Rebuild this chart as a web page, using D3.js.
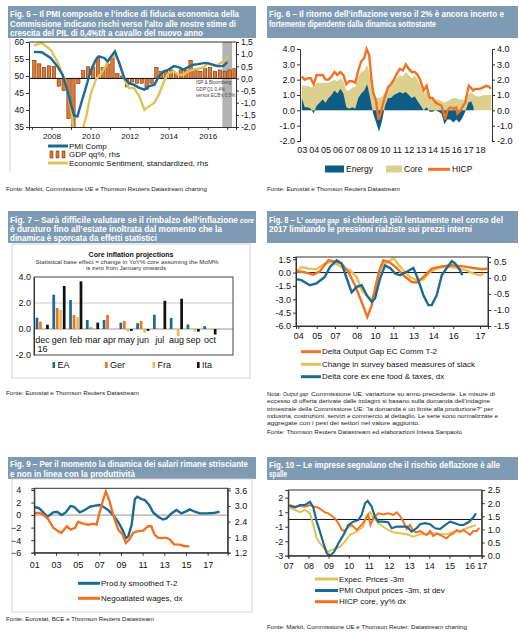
<!DOCTYPE html>
<html>
<head>
<meta charset="utf-8">
<script src="https://cdn.jsdelivr.net/npm/d3@7"></script>
<style>
  body { margin: 0; background: #fff; }
  svg { display: block; font-family: "Liberation Sans", Arial, sans-serif; }
</style>
</head>
<body>
<div id="page"></div>
<script>
// ---------- data ----------

// Fig 5: GDP q/q %, quarterly from 2007Q1
const gdpStart = 2007
const gdpQ = [0.75, 0.6, 0.45, 0.52, 0.5, -0.32, -0.5, -1.66, -2.5, -0.21, 0.32, 0.48,
  0.48, 0.88, 0.45, 0.6, 0.85, 0.2, 0.1, -0.35, -0.15, -0.2, -0.2, -0.45,
  -0.2, 0.45, 0.3, 0.3, 0.35, 0.2, 0.35, 0.35, 0.75, 0.35, 0.3, 0.4,
  0.45, 0.3, 0.35, 0.3, 0.35, 0.4]
const pmiComp = [[2007.1,57.1],[2007.5,57.0],[2007.96,55.3],[2008.3,52.9],[2008.56,50.4],[2008.78,46.5],
  [2009.0,41.6],[2009.16,38.4],[2009.33,38.1],[2009.5,41.6],[2009.76,46.5],[2010.0,51.4],[2010.27,54.8],
  [2010.43,55.8],[2010.7,55.3],[2010.87,54.3],[2011.0,55.3],[2011.25,57.3],[2011.47,53.8],[2011.73,49.4],
  [2011.98,47.9],[2012.23,47.4],[2012.5,46.5],[2012.76,46.0],[2013.0,47.0],[2013.27,47.4],[2013.5,49.9],
  [2013.76,51.4],[2014.0,51.9],[2014.27,52.9],[2014.5,52.6],[2014.76,51.9],[2015.0,52.6],[2015.27,53.3],
  [2015.5,53.5],[2015.8,53.8],[2016.0,53.8],[2016.3,53.3],[2016.5,52.9],[2016.8,52.9],[2017.0,54.1]]
const sentiment = [[2007.1,1.36],[2007.5,1.46],[2007.96,1.18],[2008.3,0.7],[2008.65,0.02],[2008.9,-0.8],
  [2009.05,-1.5],[2009.15,-2.4],[2009.35,-2.8],[2009.6,-2.1],[2009.8,-1.5],[2010.0,-0.67],[2010.27,-0.05],
  [2010.5,0.15],[2010.77,0.5],[2011.0,0.84],[2011.25,0.95],[2011.47,0.7],[2011.73,-0.05],[2011.98,-0.4],
  [2012.23,-0.4],[2012.5,-0.74],[2012.76,-1.29],[2013.0,-1.15],[2013.27,-1.0],[2013.5,-0.67],[2013.76,-0.12],
  [2014.0,0.22],[2014.27,0.29],[2014.5,0.15],[2014.76,0.15],[2015.0,0.29],[2015.27,0.36],[2015.5,0.4],
  [2015.8,0.45],[2016.0,0.63],[2016.3,0.53],[2016.5,0.55],[2016.8,0.7],[2017.05,0.9]]
const forecastSpan = [2016.75, 2017.25]
const fig5YearTicks = [2008, 2010, 2012, 2014, 2016]

// Fig 6: contributions to HICP
const energy6 = [[2003.0,0.8],[2003.25,0.2],[2003.5,0.2],[2003.75,0.1],[2004.0,-0.2],[2004.25,0.3],[2004.5,0.5],
  [2004.75,0.7],[2005.0,0.5],[2005.25,0.8],[2005.5,1.0],[2005.75,1.3],[2006.0,1.1],[2006.25,1.4],[2006.5,1.1],
  [2006.75,0.2],[2007.0,0.1],[2007.25,0.2],[2007.5,0.1],[2007.75,0.8],[2008.0,1.1],[2008.25,1.3],[2008.5,1.7],
  [2008.75,0.8],[2009.0,-0.2],[2009.25,-0.8],[2009.5,-1.4],[2009.75,-0.7],[2010.0,0.3],[2010.25,0.8],[2010.5,0.8],
  [2010.75,1.0],[2011.0,1.1],[2011.25,1.2],[2011.5,1.1],[2011.75,1.2],[2012.0,1.0],[2012.25,0.8],[2012.5,0.9],
  [2012.75,0.6],[2013.0,0.3],[2013.25,0.0],[2013.5,0.2],[2013.75,-0.1],[2014.0,-0.1],[2014.25,0.0],[2014.5,-0.1],
  [2014.75,-0.2],[2015.0,-0.9],[2015.25,-0.6],[2015.5,-0.6],[2015.75,-0.8],[2016.0,-0.6],[2016.25,-0.8],
  [2016.5,-0.5],[2016.75,-0.1],[2017.0,0.5],[2017.25,0.6],[2017.45,0.2]]
const core6 = [[2003.0,1.6],[2003.25,1.6],[2003.5,1.6],[2003.75,1.5],[2004.0,1.5],[2004.25,1.8],[2004.5,1.8],
  [2004.75,1.8],[2005.0,1.8],[2005.25,1.8],[2005.5,1.9],[2005.75,2.0],[2006.0,1.9],[2006.25,2.1],[2006.5,1.9],
  [2006.75,1.3],[2007.0,1.3],[2007.25,1.5],[2007.5,1.5],[2007.75,2.2],[2008.0,2.5],[2008.25,2.6],[2008.5,3.0],
  [2008.75,2.2],[2009.0,1.3],[2009.25,0.8],[2009.5,0.8],[2009.75,0.9],[2010.0,1.2],[2010.25,1.5],[2010.5,1.6],
  [2010.75,1.9],[2011.0,2.1],[2011.25,2.3],[2011.5,2.2],[2011.75,2.5],[2012.0,2.3],[2012.25,2.1],[2012.5,2.3],
  [2012.75,2.0],[2013.0,1.6],[2013.25,1.1],[2013.5,1.3],[2013.75,0.8],[2014.0,0.8],[2014.25,0.7],[2014.5,0.7],
  [2014.75,0.6],[2015.0,0.5],[2015.25,0.6],[2015.5,0.7],[2015.75,0.8],[2016.0,0.8],[2016.25,0.7],[2016.5,0.7],
  [2016.75,0.7],[2017.0,1.0],[2017.25,1.2],[2017.5,1.0],[2017.75,0.9],[2018.0,0.9],[2018.25,1.0],[2018.5,1.0],
  [2018.75,1.0],[2018.95,1.0]]
const hicp6 = [[2003.0,2.2],[2003.25,2.0],[2003.5,2.1],[2003.75,2.1],[2004.0,1.7],[2004.25,2.3],[2004.5,2.3],
  [2004.75,2.3],[2005.0,2.0],[2005.25,2.0],[2005.5,2.2],[2005.75,2.5],[2006.0,2.3],[2006.25,2.5],[2006.5,2.3],
  [2006.75,1.7],[2007.0,1.9],[2007.25,1.9],[2007.5,1.8],[2007.75,2.6],[2008.0,3.2],[2008.25,3.4],[2008.45,4.0],
  [2008.67,3.6],[2008.85,2.1],[2009.0,1.2],[2009.25,0.6],[2009.45,-0.6],[2009.6,-0.3],[2009.85,0.5],[2010.0,0.9],
  [2010.25,1.5],[2010.5,1.7],[2010.75,2.0],[2011.0,2.4],[2011.25,2.7],[2011.5,2.6],[2011.75,3.0],[2012.0,2.7],
  [2012.25,2.5],[2012.5,2.5],[2012.75,2.3],[2013.0,1.9],[2013.25,1.3],[2013.5,1.6],[2013.75,0.8],[2014.0,0.8],
  [2014.25,0.5],[2014.5,0.4],[2014.75,0.3],[2014.95,-0.2],[2015.05,-0.6],[2015.25,0.0],[2015.5,0.2],[2015.75,0.1],
  [2016.0,0.2],[2016.1,-0.2],[2016.35,0.0],[2016.5,0.2],[2016.75,0.5],[2016.9,1.1],[2017.05,1.6],[2017.2,1.5],
  [2017.4,1.3],[2017.6,1.4],[2017.8,1.4],[2018.0,1.4],[2018.25,1.5],[2018.5,1.6],[2018.75,1.55],[2018.9,1.4]]
const fig6Years = d3.range(2003, 2019)

// Fig 7: core inflation base effects
const months7 = ['dec', 'gen', 'feb', 'mar', 'apr', 'may', 'jun', 'jul', 'aug', 'sep', 'oct']
const countries7 = ['EA', 'Ger', 'Fra', 'Ita']
const ea7 = [0.87, 2.64, 2.23, 0.69, 0.69, 0.49, 0.45, 1.1, 0.85, 0.35, 0.22]
const ger7 = [0.56, 1.62, 1.08, 0.13, 1.08, 0.62, 0.62, 0.03, 0.0, 0.0, 0.0]
const fra7 = [0.05, 1.46, 0.9, 0.05, 0.0, -0.2, -0.3, 0.05, -0.55, -0.2, -0.1]
const ita7 = [0.33, 3.31, 3.67, 0.49, 0.0, -0.15, -0.15, 2.17, 2.33, -0.2, -0.42]

// Fig 8: output gap
const outputGap8 = [[2004.0,0.15],[2004.53,0.07],[2005.26,-0.23],[2005.75,0.15],[2006.36,1.38],[2006.97,1.2],
  [2007.33,1.0],[2007.82,0.07],[2008.3,-1.43],[2008.79,-3.3],[2009.2,-5.0],[2009.52,-3.68],[2009.76,-1.8],
  [2010.13,0.45],[2010.37,1.38],[2010.86,1.12],[2011.34,0.52],[2011.83,-0.3],[2012.44,-1.06],[2012.8,-1.12],
  [2013.29,-0.5],[2013.9,0.45],[2014.63,0.7],[2015.36,0.82],[2016.2,0.7],[2016.93,0.52],[2017.55,0.37],[2017.96,0.45]]
const slack8 = [[2004.0,0.07],[2004.4,0.63],[2004.9,0.45],[2005.5,0.37],[2006.1,1.0],[2006.6,1.2],[2007.1,0.82],
  [2007.57,0.45],[2007.94,0.25],[2008.43,-0.5],[2008.79,-2.0],[2009.16,-2.55],[2009.52,-3.1],[2009.76,-2.18],
  [2010.0,-0.12],[2010.37,1.0],[2010.73,1.2],[2011.1,1.64],[2011.46,0.9],[2011.83,0.25],[2012.32,-0.5],
  [2012.8,-0.87],[2013.29,-0.75],[2013.77,0.07],[2014.26,0.45],[2014.74,0.63],[2015.36,0.63],[2015.96,0.45],
  [2016.45,0.25],[2016.93,-0.12],[2017.42,-0.3],[2017.71,-0.12]]
const deltaCore8 = [[2004.0,-0.04],[2004.4,-0.07],[2005.0,-0.23],[2005.5,-0.17],[2006.1,0.03],[2006.48,0.34],
  [2006.97,0.55],[2007.33,0.45],[2007.7,-0.02],[2008.06,-0.45],[2008.43,-0.28],[2008.79,-0.23],[2009.16,-0.54],
  [2009.52,-0.75],[2009.76,-0.64],[2010.13,-0.02],[2010.49,0.39],[2010.86,0.31],[2011.22,0.14],[2011.58,0.08],
  [2012.07,0.19],[2012.56,0.31],[2012.92,-0.07],[2013.29,-0.54],[2013.65,-0.85],[2013.9,-0.85],[2014.26,-0.54],
  [2014.63,0.08],[2014.99,0.31],[2015.36,0.52],[2015.6,0.45],[2015.96,0.24],[2016.13,0.08]]
const fig8TickPos = [2004.17, 2005.51, 2006.84, 2008.43, 2009.76, 2011.1, 2012.56, 2014.01, 2015.47, 2017.42]
const fig8TickLab = ['04', '05', '07', '08', '10', '11', '13', '14', '16', '17']

// Fig 9: productivity and wages
const prod9 = [[2001.0,1.33],[2001.46,1.07],[2001.83,0.43],[2002.23,-0.27],[2002.75,0.43],[2003.12,0.53],
  [2003.52,0.0],[2003.9,0.43],[2004.35,1.44],[2004.66,1.33],[2005.2,0.43],[2005.67,0.8],[2006.13,1.33],
  [2006.6,1.5],[2007.05,1.6],[2007.36,1.33],[2007.82,0.8],[2008.28,0.0],[2008.74,-1.07],[2009.15,-2.4],
  [2009.45,-3.7],[2009.67,-3.4],[2009.98,-1.6],[2010.28,2.56],[2010.5,2.93],[2010.9,2.56],[2011.2,2.4],
  [2011.6,1.6],[2011.97,0.43],[2012.43,-0.27],[2012.89,-0.7],[2013.2,-0.53],[2013.66,0.27],[2014.12,0.8],
  [2014.58,0.27],[2015.05,0.64],[2015.35,0.9],[2015.81,0.53],[2016.27,0.27],[2016.9,0.27],[2017.5,0.32],[2018.1,0.53]]
const wages9 = [[2001.0,2.73],[2001.46,2.73],[2001.83,2.67],[2002.3,2.48],[2002.75,2.16],[2003.2,2.03],
  [2003.52,1.97],[2004.0,2.22],[2004.35,2.09],[2004.76,2.16],[2005.05,2.39],[2005.52,2.32],[2005.98,2.28],
  [2006.44,2.32],[2006.75,2.28],[2007.05,2.79],[2007.36,3.24],[2007.6,3.56],[2007.9,3.24],[2008.28,2.67],
  [2008.74,2.09],[2009.15,1.9],[2009.45,1.58],[2009.78,1.71],[2010.13,1.97],[2010.6,2.03],[2011.05,2.05],
  [2011.5,2.22],[2011.8,2.22],[2012.1,1.9],[2012.43,1.77],[2012.89,1.77],[2013.2,1.77],[2013.5,1.71],
  [2013.9,1.52],[2014.43,1.51],[2014.9,1.45],[2015.3,1.45]]
const fig9Years = [2001, 2003, 2005, 2007, 2009, 2011, 2013, 2015, 2017]

// Fig 10: deflation risk
const expPrices10 = [[2007.05,0.98],[2007.33,0.79],[2007.58,0.6],[2007.83,0.79],[2008.08,0.51],[2008.24,-0.46],
  [2008.41,-1.56],[2008.57,-1.97],[2008.77,-2.38],[2008.99,-2.67],[2009.15,-2.52],[2009.32,-2.44],[2009.57,-2.25],
  [2009.81,-1.84],[2010.06,-1.28],[2010.39,-1.01],[2010.72,-0.6],[2010.89,0.37],[2011.05,0.6],[2011.22,0.15],
  [2011.47,-0.31],[2011.71,-0.6],[2011.96,-0.87],[2012.21,-1.06],[2012.54,-1.14],[2012.88,-1.23],[2013.2,-1.42],
  [2013.54,-1.23],[2013.87,-1.23],[2014.2,-1.14],[2014.53,-1.23],[2014.86,-1.23],[2015.19,-1.01],[2015.52,-0.96],
  [2015.85,-0.73],[2016.18,-0.54],[2016.31,-0.46]]
const pmiPrices10 = [[2007.05,1.14],[2007.33,1.0],[2007.58,1.2],[2007.83,1.2],[2008.08,1.47],[2008.24,1.0],
  [2008.41,-0.18],[2008.57,-1.01],[2008.77,-2.11],[2008.91,-2.8],[2009.08,-3.0],[2009.28,-2.67],[2009.49,-1.97],
  [2009.74,-1.28],[2009.98,-0.46],[2010.23,-0.18],[2010.48,-0.04],[2010.64,0.37],[2010.81,1.34],[2010.94,1.53],
  [2011.14,1.06],[2011.3,0.23],[2011.47,-0.18],[2011.71,-0.18],[2011.96,-0.23],[2012.13,-0.73],[2012.38,-0.6],
  [2012.63,-0.6],[2012.88,-0.6],[2013.12,-1.01],[2013.37,-0.73],[2013.54,-0.4],[2013.79,-0.31],[2014.04,-0.4],
  [2014.29,-0.73],[2014.53,-0.79],[2014.78,-0.46],[2015.03,-0.18],[2015.28,-0.31],[2015.52,-0.46],[2015.69,-0.46],
  [2015.94,-0.23],[2016.18,0.15],[2016.31,0.51]]
const coreHicp10 = [[2007.05,1.93],[2007.33,1.86],[2007.58,1.9],[2007.83,1.86],[2008.08,1.93],[2008.32,1.86],
  [2008.49,1.83],[2008.66,1.74],[2008.82,1.65],[2008.99,1.61],[2009.15,1.52],[2009.32,1.42],[2009.49,1.23],
  [2009.65,0.98],[2009.81,0.94],[2009.98,1.1],[2010.15,1.17],[2010.39,0.98],[2010.64,1.17],[2010.81,1.36],
  [2010.97,1.55],[2011.08,1.17],[2011.22,1.42],[2011.47,1.61],[2011.71,1.57],[2011.96,1.61],[2012.21,1.55],
  [2012.38,1.65],[2012.54,1.52],[2012.71,1.29],[2012.88,1.02],[2013.04,1.17],[2013.2,0.94],[2013.37,0.89],
  [2013.54,0.94],[2013.71,0.85],[2013.87,0.79],[2014.04,0.94],[2014.2,0.75],[2014.37,0.85],[2014.53,0.79],
  [2014.7,0.72],[2014.86,0.66],[2015.03,0.79],[2015.19,0.85],[2015.36,0.98],[2015.52,0.9],[2015.69,0.98],
  [2015.85,0.89],[2016.02,0.79],[2016.18,0.94],[2016.35,0.94],[2016.48,1.06]]
const fig10Ticks = [2007, 2008, 2009, 2010, 2011, 2012, 2013, 2014, 2015, 2016, 2016.6]

// ---------- drawing ----------
const C = {
  blue: '#1a6a93', orange: '#f07324', yellow: '#e2c257', khaki: '#ddd08f', navy: '#0e5d86',
  head: '#7f9bb3', axis: '#333', grid: '#c9c9c9', text: '#111', src: '#222'
}

let svg = d3.select('#page').append('svg').attr('width', 519).attr('height', 635)
svg.append('rect').attr('width', 519).attr('height', 635).attr('fill', '#fff')

function label(x, y, s, o = {}) {
  let t = svg.append('text').attr('x', x).attr('y', y)
    .attr('font-size', o.size || 8).attr('fill', o.fill || C.text)
    .attr('dominant-baseline', 'central')
  if (o.bold) t.attr('font-weight', 'bold')
  if (o.anchor) t.attr('text-anchor', o.anchor)
  if (typeof s === 'string') {
    t.text(s)
    if (o.len) t.attr('textLength', o.len).attr('lengthAdjust', 'spacingAndGlyphs')
  } else {
    // segments: [text, italic, x, width, size]
    s.forEach(sg => {
      t.append('tspan').text(sg[0]).attr('x', sg[2]).attr('font-style', sg[1] ? 'italic' : null)
        .attr('font-size', sg[4] || null)
        .attr('textLength', sg[3]).attr('lengthAdjust', 'spacingAndGlyphs')
    })
  }
  return t
}

function titleBar(x, y, w, h, lines) {
  svg.append('rect').attr('x', x).attr('y', y).attr('width', w).attr('height', h).attr('fill', C.head)
  lines.forEach(l => label(x + 2, l.y, l.t, { size: 8.2, bold: true, fill: '#fff', len: l.len }))
}

function source(x, y, s, len) {
  label(x, y, s, { size: 5.6, fill: C.src, len: len })
}

function styleAxis(g, size) {
  g.attr('font-family', null).attr('font-size', null)
  g.select('.domain').attr('stroke', C.axis)
  g.selectAll('.tick line').attr('stroke', C.axis)
  g.selectAll('.tick text').attr('font-size', size).attr('fill', C.text)
  return g
}

let fixed = n => d => d.toFixed(n)
let lineGen = (x, y) => d3.line().x(d => x(d[0])).y(d => y(d[1]))

function legendLine(x, y, color, text, w = 20) {
  svg.append('line').attr('x1', x).attr('x2', x + w).attr('y1', y).attr('y2', y)
    .attr('stroke', color).attr('stroke-width', 3)
  label(x + w + 1, y, text, { size: 8 })
}

function clip(id, x0, y0, x1, y1) {
  svg.append('clipPath').attr('id', id).append('rect')
    .attr('x', x0).attr('y', y0).attr('width', x1 - x0).attr('height', y1 - y0)
  return 'url(#' + id + ')'
}

// ===== Fig 5 =====
titleBar(8, 6, 248, 32, [
  { y: 14.5, t: 'Fig. 5 – Il PMI composito e l’indice di fiducia economica della', len: 229 },
  { y: 24, t: 'Commissione indicano rischi verso l’alto alle nostre stime di', len: 226 },
  { y: 33, t: 'crescita del PIL di 0,4%t/t a cavallo del nuovo anno', len: 193 }
])
svg.append('line').attr('x1', 10).attr('x2', 10).attr('y1', 38).attr('y2', 172).attr('stroke', '#d4d4d4')
{
  let x = d3.scaleLinear().domain([2006.85, 2017.45]).range([29, 236])
  let yL = d3.scaleLinear().domain([35, 60]).range([127, 42])
  let yR = d3.scaleLinear().domain([-2, 1.5]).range([127, 42])
  let cp = clip('c5', 29, 42, 236, 127)
  let g = svg.append('g').attr('clip-path', cp)
  g.append('rect').attr('x', x(forecastSpan[0])).attr('width', x(forecastSpan[1]) - x(forecastSpan[0]))
    .attr('y', 42).attr('height', 85).attr('fill', '#b3b3b3')
  g.selectAll('rect.gdp').data(gdpQ).enter().append('rect').attr('class', 'gdp')
    .attr('x', (d, i) => x(gdpStart + i / 4 + 0.125) - 1.7)
    .attr('width', 3.4)
    .attr('y', d => yR(Math.max(0, d)))
    .attr('height', d => Math.abs(yR(d) - yR(0)))
    .attr('fill', C.orange).attr('stroke', '#3a2a20').attr('stroke-width', 0.5)
  g.append('line').attr('x1', 29).attr('x2', 236).attr('y1', yR(0)).attr('y2', yR(0)).attr('stroke', '#111')
  g.append('path').datum(sentiment).attr('d', lineGen(x, yR)).attr('fill', 'none')
    .attr('stroke', C.yellow).attr('stroke-width', 2.4)
  g.append('path').datum(pmiComp).attr('d', lineGen(x, yL)).attr('fill', 'none')
    .attr('stroke', C.blue).attr('stroke-width', 2.4)
  svg.append('line').attr('x1', 29).attr('x2', 236).attr('y1', 42).attr('y2', 42).attr('stroke', C.axis)
  styleAxis(svg.append('g').attr('transform', 'translate(29,0)')
    .call(d3.axisLeft(yL).tickValues([35, 40, 45, 50, 55, 60]).tickSize(3).tickPadding(2)), 8.5)
  styleAxis(svg.append('g').attr('transform', 'translate(236,0)')
    .call(d3.axisRight(yR).tickValues(d3.range(-2, 1.51, 0.5)).tickSize(3).tickPadding(2)
      .tickFormat(d => d.toFixed(1).replace('.', ','))), 8.5)
  styleAxis(svg.append('g').attr('transform', 'translate(0,127)')
    .call(d3.axisBottom(x).tickValues(d3.range(2007, 2018)).tickSize(3).tickPadding(3.5)
      .tickFormat(d => fig5YearTicks.includes(d) ? String(d) : '')), 8)
  ;['ISP & Bloomberg:', 'GDP’Q1 0.4%', 'versus ECB’s 0.5%.'].forEach((s, i) =>
    label(196, 82.5 + i * 6.6, s, { size: 4.6, fill: '#444' }))
  // legend
  legendLine(48, 146, C.blue, 'PMI Comp')
  ;[0, 1, 2].forEach(i => svg.append('rect').attr('x', 50 + i * 6).attr('y', 151).attr('width', 3).attr('height', 7)
    .attr('fill', C.orange).attr('stroke', '#3a2a20').attr('stroke-width', 0.5))
  label(69, 154.5, 'GDP qq%, rhs', { size: 8 })
  legendLine(48, 163, C.yellow, 'Economic Sentiment, standardized, rhs')
}
source(6, 189, 'Fonte: Markit, Commissione UE e Thomson Reuters Datastream charting', 201)

// ===== Fig 6 =====
titleBar(267, 6, 251, 32, [
  { y: 14.5, t: 'Fig. 6 – Il ritorno dell’inflazione verso il 2% è ancora incerto e', len: 235 },
  { y: 24, t: 'fortemente dipendente dalla dinamica sottostante', len: 167 }
])
{
  let x = d3.scaleLinear().domain([2002.85, 2019.0]).range([300, 492])
  let y = d3.scaleLinear().domain([-2, 4]).range([141, 49])
  let area = d3.area().x(d => x(d[0])).y0(y(0)).y1(d => y(d[1]))
  svg.append('path').datum(core6).attr('d', area).attr('fill', C.khaki)
  svg.append('path').datum(energy6).attr('d', area).attr('fill', C.navy)
  svg.append('path').datum(hicp6).attr('d', lineGen(x, y)).attr('fill', 'none')
    .attr('stroke', C.orange).attr('stroke-width', 2.4)
  styleAxis(svg.append('g').attr('transform', 'translate(300,0)')
    .call(d3.axisLeft(y).tickValues(d3.range(-2, 4.1, 1)).tickSize(3).tickPadding(2).tickFormat(fixed(1))), 9)
  styleAxis(svg.append('g').attr('transform', 'translate(492,0)')
    .call(d3.axisRight(y).tickValues(d3.range(-2, 4.1, 1)).tickSize(3).tickPadding(2).tickFormat(fixed(1))), 9)
  let gb = styleAxis(svg.append('g').attr('transform', 'translate(0,141)')
    .call(d3.axisBottom(x).tickValues(fig6Years).tickSize(0).tickPadding(5.5)
      .tickFormat(d => String(d).slice(2))), 9)
  gb.select('.domain').remove()
  // legend
  svg.append('rect').attr('x', 325).attr('y', 165.5).attr('width', 19).attr('height', 7).attr('fill', C.navy)
  label(346, 169.3, 'Energy', { size: 8.5 })
  svg.append('rect').attr('x', 386).attr('y', 165.5).attr('width', 16).attr('height', 7).attr('fill', C.khaki)
  label(404, 169.3, 'Core', { size: 8.5 })
  svg.append('line').attr('x1', 428).attr('x2', 450).attr('y1', 169.3).attr('y2', 169.3)
    .attr('stroke', C.orange).attr('stroke-width', 3)
  label(452, 169.3, 'HICP', { size: 8.5 })
}
source(267, 189, 'Fonte: Eurostat e Thomson Reuters Datastream', 133)

// ===== Fig 7 =====
titleBar(8, 211, 248, 32, [
  { y: 219.5, t: [['Fig. 7 – Sarà difficile valutare se il rimbalzo dell’inflazione', false, 10, 228], ['core', true, 240, 14, 7]] },
  { y: 229, t: 'è duraturo fino all’estate inoltrata dal momento che la', len: 212 },
  { y: 238, t: 'dinamica è sporcata da effetti statistici', len: 147 }
])
svg.append('rect').attr('x', 12).attr('y', 244).attr('width', 238).attr('height', 134)
  .attr('fill', 'none').attr('stroke', '#d4d4d4')
{
  label(131, 254.5, 'Core inflation projections', { size: 7, bold: true, anchor: 'middle' })
  label(127, 262, 'Statistical base effect = change in YoY% core assuming the MoM%', { size: 5.3, anchor: 'middle', fill: '#333', len: 183 })
  label(126, 268, 'is zero from January onwards', { size: 5.3, anchor: 'middle', fill: '#333', len: 80 })
  let x = d3.scaleBand().domain(months7).range([34, 218.5])
  let xi = d3.scaleBand().domain(countries7).range([1.6, 14.8]).paddingInner(0.22)
  let y = d3.scaleLinear().domain([-2, 4]).range([355, 277])
  let colors7 = { EA: C.blue, Ger: C.orange, Fra: C.yellow, Ita: '#111' }
  let series7 = { EA: ea7, Ger: ger7, Fra: fra7, Ita: ita7 }
  svg.append('line').attr('x1', 34).attr('x2', 233).attr('y1', y(2)).attr('y2', y(2)).attr('stroke', C.grid)
  svg.append('line').attr('x1', 34).attr('x2', 233).attr('y1', y(0)).attr('y2', y(0)).attr('stroke', '#9a9a9a')
  countries7.forEach(c => {
    svg.append('g').selectAll('rect').data(series7[c]).enter().append('rect')
      .attr('x', (d, i) => x(months7[i]) + xi(c))
      .attr('width', xi.bandwidth())
      .attr('y', d => y(Math.max(0, d)))
      .attr('height', d => Math.abs(y(d) - y(0)))
      .attr('fill', colors7[c])
  })
  svg.append('rect').attr('x', 34).attr('y', 277).attr('width', 199).attr('height', 78)
    .attr('fill', 'none').attr('stroke', '#444')
  styleAxis(svg.append('g').attr('transform', 'translate(34,0)')
    .call(d3.axisLeft(y).tickValues([-2, 0, 2, 4]).tickSize(0).tickPadding(3).tickFormat(fixed(1))), 9)
  months7.forEach(m => label(x(m) + x.bandwidth() / 2, 339.5, m, { size: 9, anchor: 'middle' }))
  label(x('dec') + x.bandwidth() / 2, 348.5, '16', { size: 9, anchor: 'middle' })
  let lx = [52.5, 105, 152.5, 197]
  countries7.forEach((c, i) => {
    svg.append('rect').attr('x', lx[i]).attr('y', 362).attr('width', 2.6).attr('height', 6).attr('fill', colors7[c])
    label(lx[i] + 5, 365.3, c, { size: 9 })
  })
}
source(6, 393, 'Fonte: Eurostat e Thomson Reuters Datastream', 133)

// ===== Fig 8 =====
titleBar(267, 211, 251, 32, [
  { y: 219.5, t: [['Fig. 8 – L’', false, 269, 34], ['output gap', true, 305, 34, 7], ['si chiuderà più lentamente nel corso del', false, 343, 160]] },
  { y: 229, t: '2017 limitando le pressioni rialziste sui prezzi interni', len: 203 }
])
{
  let x = d3.scaleLinear().domain([2004, 2018]).range([296, 488])
  let yL = d3.scaleLinear().domain([-6, 1.75]).range([326, 257])
  let yR = d3.scaleLinear().domain([-1.5, 0.65]).range([326, 257])
  let cp = clip('c8', 296, 257, 488, 326)
  let g = svg.append('g').attr('clip-path', cp)
  g.append('line').attr('x1', 296).attr('x2', 488).attr('y1', yL(0)).attr('y2', yL(0)).attr('stroke', '#111')
  g.append('path').datum(slack8).attr('d', lineGen(x, yL)).attr('fill', 'none').attr('stroke', C.yellow).attr('stroke-width', 2.4)
  g.append('path').datum(outputGap8).attr('d', lineGen(x, yL)).attr('fill', 'none').attr('stroke', C.orange).attr('stroke-width', 2.4)
  g.append('path').datum(deltaCore8).attr('d', lineGen(x, yR)).attr('fill', 'none').attr('stroke', C.blue).attr('stroke-width', 2.4)
  svg.append('rect').attr('x', 296).attr('y', 257).attr('width', 192).attr('height', 69).attr('fill', 'none').attr('stroke', C.axis)
  styleAxis(svg.append('g').attr('transform', 'translate(296,0)')
    .call(d3.axisLeft(yL).tickValues([-6, -4.5, -3, -1.5, 0, 1.5]).tickSize(3).tickPadding(2).tickFormat(fixed(1))), 9)
  styleAxis(svg.append('g').attr('transform', 'translate(488,0)')
    .call(d3.axisRight(yR).tickValues([-1.5, -1, -0.5, 0, 0.5]).tickSize(3).tickPadding(3).tickFormat(fixed(1))), 9)
  styleAxis(svg.append('g').attr('transform', 'translate(0,326)')
    .call(d3.axisBottom(x).tickValues(fig8TickPos).tickSize(3).tickPadding(4)
      .tickFormat((d, i) => fig8TickLab[i])), 9)
  legendLine(301, 351.7, C.orange, 'Delta Output Gap EC Comm T-2')
  legendLine(301, 364.3, C.yellow, 'Change in survey based measures of slack')
  legendLine(301, 376.7, C.blue, 'Delta core  ex ene food & taxes, dx')
}
{
  label(267, 394, [['Nota:', false, 267, 14], ['Output gap', true, 283, 25],
    ['Commissione UE, variazione su anno precedente. Le misure di', false, 311, 184]], { size: 5.6, fill: C.src })
  let notes = [
    ['eccesso di offerta derivate dalle indagini si basano sulla domanda dell’indagine', 223],
    ['trimestrale della Commissione UE: “la domanda è un limite alla produzione?” per', 226],
    ['industria, costruzioni, servizi e commercio al dettaglio. Le serie sono normalizzate e', 231],
    ['aggregate con i pesi dei settori nel valore aggiunto.', 153]
  ]
  notes.forEach((n, i) => label(267, 401.35 + i * 7.35, n[0], { size: 5.6, fill: C.src, len: n[1] }))
  source(267, 431.5, 'Fonte: Thomson Reuters Datastream ed elaborazioni Intesa Sanpaolo', 195)
}

// ===== Fig 9 =====
titleBar(8, 457, 248, 22, [
  { y: 464.5, t: 'Fig. 9 – Per il momento la dinamica dei salari rimane strisciante', len: 238 },
  { y: 474, t: 'e non in linea con la produttività', len: 125 }
])
svg.append('rect').attr('x', 12).attr('y', 479).attr('width', 240).attr('height', 133)
  .attr('fill', 'none').attr('stroke', '#d4d4d4')
{
  let x = d3.scaleLinear().domain([2001, 2018.85]).range([34.3, 227.7])
  let yL = d3.scaleLinear().domain([-6, 4.27]).range([552.7, 488.3])
  let yR = d3.scaleLinear().domain([1.2, 3.68]).range([552.7, 488.3])
  let cp = clip('c9', 34.3, 488.3, 227.7, 552.7)
  let g = svg.append('g').attr('clip-path', cp)
  g.append('line').attr('x1', 34.3).attr('x2', 227.7).attr('y1', yL(0)).attr('y2', yL(0)).attr('stroke', '#aaa').attr('stroke-width', 1.2)
  g.append('path').datum(prod9).attr('d', lineGen(x, yL)).attr('fill', 'none').attr('stroke', C.blue).attr('stroke-width', 2.4)
  g.append('path').datum(wages9).attr('d', lineGen(x, yR)).attr('fill', 'none').attr('stroke', C.orange).attr('stroke-width', 2.4)
  svg.append('rect').attr('x', 34.3).attr('y', 488.3).attr('width', 193.4).attr('height', 64.4).attr('fill', 'none').attr('stroke', C.axis)
  styleAxis(svg.append('g').attr('transform', 'translate(34.3,0)')
    .call(d3.axisLeft(yL).tickValues([-6, -4, -2, 0, 2, 4]).tickSize(3).tickPadding(10)), 9)
  styleAxis(svg.append('g').attr('transform', 'translate(227.7,0)')
    .call(d3.axisRight(yR).tickValues([1.2, 1.8, 2.4, 3.0, 3.6]).tickSize(3).tickPadding(4).tickFormat(fixed(1))), 9)
  styleAxis(svg.append('g').attr('transform', 'translate(0,552.7)')
    .call(d3.axisBottom(x).tickValues(fig9Years).tickSize(3).tickPadding(5.5)
      .tickFormat(d => String(d).slice(2))), 9)
  legendLine(78, 583.3, C.blue, 'Prod.ty smoothed T-2', 22)
  legendLine(78, 598.3, C.orange, 'Negoatiated wages, dx', 22)
}
source(6, 619, 'Fonte: Eurostat, BCE e Thomson Reuters Datastream', 148)

// ===== Fig 10 =====
titleBar(267, 457, 251, 23, [
  { y: 465, t: 'Fig. 10 – Le imprese segnalano che il rischio deflazione è alle', len: 231 },
  { y: 474.5, t: 'spalle', len: 18 }
])
{
  let x = d3.scaleLinear().domain([2007, 2016.6]).range([288.3, 481.7])
  let yL = d3.scaleLinear().domain([-3, 2.44]).range([555.7, 490])
  let yR = d3.scaleLinear().domain([0, 2.5]).range([555.7, 490])
  let cp = clip('c10', 288.3, 490, 481.7, 555.7)
  let g = svg.append('g').attr('clip-path', cp)
  g.append('line').attr('x1', 288.3).attr('x2', 481.7).attr('y1', yL(0)).attr('y2', yL(0)).attr('stroke', '#111')
  g.append('path').datum(expPrices10).attr('d', lineGen(x, yL)).attr('fill', 'none').attr('stroke', C.yellow).attr('stroke-width', 2)
  g.append('path').datum(coreHicp10).attr('d', lineGen(x, yR)).attr('fill', 'none').attr('stroke', C.orange).attr('stroke-width', 2)
  g.append('path').datum(pmiPrices10).attr('d', lineGen(x, yL)).attr('fill', 'none').attr('stroke', C.blue).attr('stroke-width', 2.2)
  svg.append('rect').attr('x', 288.3).attr('y', 490).attr('width', 193.4).attr('height', 65.7).attr('fill', 'none').attr('stroke', C.axis)
  styleAxis(svg.append('g').attr('transform', 'translate(288.3,0)')
    .call(d3.axisLeft(yL).tickValues([-3, -1.8, -0.6, 0.6, 1.8]).tickSize(3).tickPadding(2)
      .tickFormat(d => String(Math.round(d)))), 9)
  styleAxis(svg.append('g').attr('transform', 'translate(481.7,0)')
    .call(d3.axisRight(yR).tickValues([0, 0.5, 1, 1.5, 2, 2.5]).tickSize(3).tickPadding(3).tickFormat(fixed(1))), 9)
  styleAxis(svg.append('g').attr('transform', 'translate(0,555.7)')
    .call(d3.axisBottom(x).tickValues(fig10Ticks).tickSize(3).tickPadding(3.5)
      .tickFormat(d => String(Math.ceil(d)).slice(2))), 9)
  legendLine(315, 579, C.yellow, 'Expec. Prices -3m', 23)
  legendLine(315, 590.5, C.blue, 'PMI Output prices -3m, st dev', 23)
  legendLine(315, 601.7, C.orange, 'HICP core, yy% dx', 23)
}
source(267, 626.7, 'Fonte: Markit, Commissione UE e Thomson Reuter: Datastream charting', 200)
</script>
</body>
</html>
